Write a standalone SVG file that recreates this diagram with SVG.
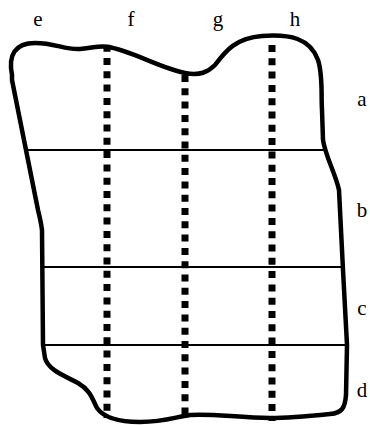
<svg xmlns="http://www.w3.org/2000/svg" width="370" height="425" viewBox="0 0 370 425">
<style>
.lbl{font-family:"Liberation Serif","Times New Roman",serif;font-size:21px;fill:#000;text-anchor:middle}
.outline{fill:none;stroke:#000;stroke-width:4.5;stroke-linejoin:round}
.hl{stroke:#000;stroke-width:2;fill:none}
.dl{stroke:#000;stroke-width:7;stroke-dasharray:7 6.3;fill:none}
</style>
<rect width="370" height="425" fill="#fff"/>
<g id="outline">
<path class="outline" d="M 12,75 C 8,55 15,43 35,43 C 55,43 65,50 80,49 C 95,48 98,45 108,47 C 130,50 160,68 185,73 C 200,76 208,72 215,65 C 225,52 235,38 262,36 C 290,34 310,38 318,60 C 323,75 321,95 322,110 L 323,140 C 325,155 336,175 339,190 L 343,270 L 347,345 L 346,395 C 345,408 342,413 330,414 C 310,416 290,418 270,418 C 240,418 210,413 190,415 C 175,417 165,422 140,422 C 120,422 104,418 97,408 C 92,398 90,390 78,383 C 65,376 48,370 45,358 L 43,345 L 42,230 C 41,222 40,218 38,210 L 12,80 Z"/>
</g>
<g id="connectors">
<line class="hl" x1="27" y1="150" x2="327" y2="150"/>
<line class="hl" x1="43" y1="267" x2="343" y2="267"/>
<line class="hl" x1="43" y1="345" x2="347" y2="345"/>
<line class="dl" x1="107" y1="44.7" x2="107" y2="418"/>
<line class="dl" x1="185" y1="75" x2="185" y2="418"/>
<line class="dl" x1="272" y1="45" x2="272" y2="421"/>
</g>
<g id="labels">
<text class="lbl" x="38" y="26">e</text>
<text class="lbl" x="131" y="26">f</text>
<text class="lbl" x="218" y="26">g</text>
<text class="lbl" x="295" y="26">h</text>
<text class="lbl" x="362" y="106">a</text>
<text class="lbl" x="362" y="217">b</text>
<text class="lbl" x="362" y="315">c</text>
<text class="lbl" x="362" y="397">d</text>
</g>
</svg>
